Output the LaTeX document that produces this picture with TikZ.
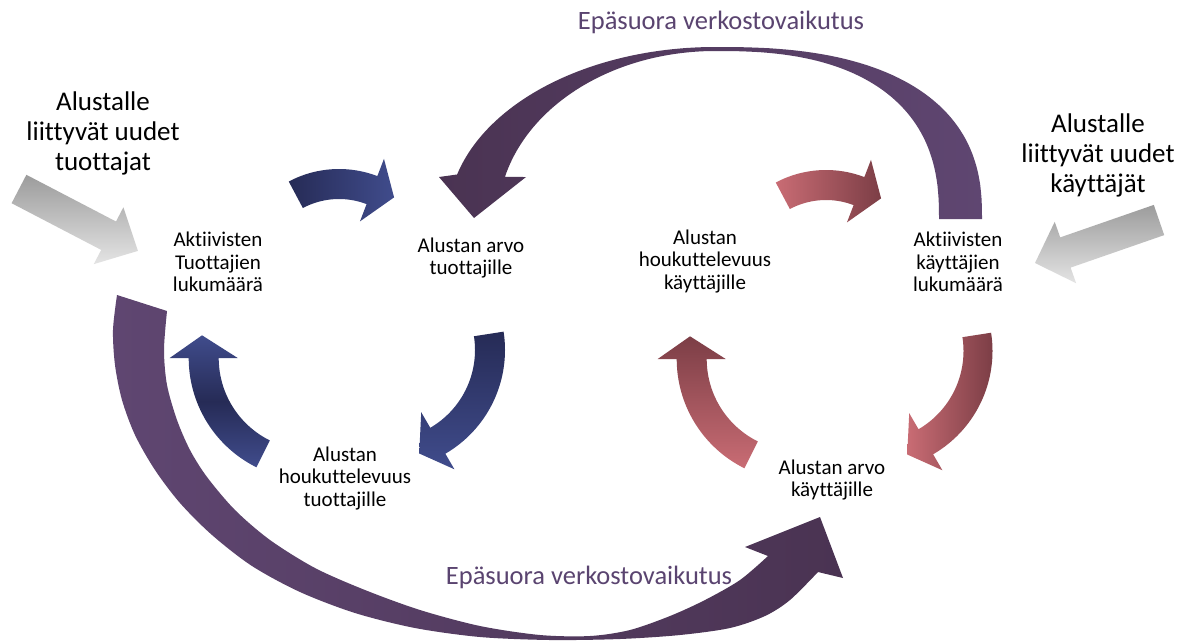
\documentclass[tikz,border=0pt]{standalone}
\usepackage{fontspec}
\setmainfont{Carlito}[Ligatures=NoCommon]
\definecolor{bluedark}{HTML}{262B56}
\definecolor{bluelight}{HTML}{404C8C}
\definecolor{reddark}{HTML}{7C3E46}
\definecolor{redlight}{HTML}{C96C74}
\definecolor{purpdark}{HTML}{4A3352}
\definecolor{purplight}{HTML}{5F4671}
\definecolor{graydark}{HTML}{9C9C9C}
\definecolor{graylight}{HTML}{E4E4E4}
\definecolor{txtpurple}{HTML}{5A4470}
% cx cy r a1 a2 a3 w hw style
\newcommand\cycarrow[9]{%
  \shade[#9] plot[domain=#4:#5,samples=40] ({#1+(#3+#7/2)*cos(\x)},{#2+(#3+#7/2)*sin(\x)})
   -- ({#1+(#3+#8/2)*cos(#5)},{#2+(#3+#8/2)*sin(#5)})
   -- ({#1+(#3+4)*cos(#6)},{#2+(#3+4)*sin(#6)})
   -- ({#1+(#3-#8/2)*cos(#5)},{#2+(#3-#8/2)*sin(#5)})
   -- plot[domain=#5:#4,samples=40] ({#1+(#3-#7/2)*cos(\x)},{#2+(#3-#7/2)*sin(\x)})
   -- cycle;}
\tikzset{
  lbl/.style={align=center, font=\fontsize{21}{22.5}\selectfont, inner sep=0pt},
  biglbl/.style={align=center, font=\fontsize{27}{30}\selectfont, inner sep=0pt},
  efx/.style={font=\fontsize{26.5}{29}\selectfont, text=txtpurple, inner sep=0pt},
  grayarrow/.style={top color=graydark, bottom color=graylight}
}
\begin{document}
\begin{tikzpicture}[x=1pt,y=-1pt]
\useasboundingbox (0,0) rectangle (1190,641);
\fill[white] (0,0) rectangle (1190,641);

% big top arrow
\shade[left color=purpdark,right color=purplight] (439,177)
  -- plot[domain=165:90,samples=50] ({715+267*cos(\x)},{219-172*sin(\x)})
  -- plot[domain=89.8:0.2,samples=50] ({715+267*pow(cos(\x),0.8)},{219-172*pow(sin(\x),0.8)})
  -- (982,219) -- (939,219)
  -- plot[domain=0.2:89.8,samples=50] ({715+224*pow(cos(\x),0.8)},{219-168*pow(sin(\x),0.8)})
  -- plot[domain=90:165.5,samples=50] ({715+217*cos(\x)},{219-168*sin(\x)})
  -- (526,177) -- (474,218) -- cycle;

% big bottom arrow
\shade[left color=purplight,right color=purpdark]
  plot[smooth] coordinates {(117,295) (113,330) (115,365) (122,400) (135,435) (155,470) (180,503) (212,535) (252,566) (300,592) (355,613) (415,628) (480,637) (550,640) (620,639) (680,635) (730,628) (765,616) (790,600) (818,572)}
  -- (843,578) -- (820,517) -- (745,547) -- (768,556)
  -- plot[smooth] coordinates {(768,556) (740,580) (705,600) (670,616) (630,630) (590,636) (540,635) (480,626) (420,610) (365,590) (315,568) (270,540) (235,510) (207,477) (190,450) (177,420) (167,385) (164,350) (167,311)}
  -- cycle;

% blue cycle
\cycarrow{339}{276}{92}{-118}{-69}{-55}{30}{67}{left color=bluedark,right color=bluelight}
\cycarrow{385}{350}{105}{-8.8}{59.8}{71.7}{30}{66}{top color=bluedark,bottom color=bluelight}
\cycarrow{310.7}{358}{107}{116.4}{180}{191.8}{30}{68}{top color=bluelight,bottom color=bluelight,middle color=bluedark}

% red cycle
\cycarrow{826}{277}{92}{-118}{-69}{-55}{30}{67}{left color=redlight,right color=reddark}
\cycarrow{873}{351}{105}{-8.8}{59.8}{71.7}{29}{66}{left color=redlight,right color=reddark}
\cycarrow{798.7}{359}{107}{116.4}{180}{191.8}{30}{68}{top color=reddark,bottom color=redlight}

% gray arrows
\shade[grayarrow] (26.4,174.8) -- (116,221.5) -- (123.4,207.3) -- (137.9,250.9) -- (93.8,264.1) -- (101.2,249.9) -- (11.6,203.2) -- cycle;
\shade[grayarrow] (1153.8,204.9) -- (1060.2,237.4) -- (1054.7,221.8) -- (1035,263) -- (1076.1,283.2) -- (1070.6,267.6) -- (1164.2,235.1) -- cycle;

% texts
\node[biglbl] (newprod) at (103,133) {Alustalle\\liittyvät uudet\\tuottajat};
\node[biglbl] (newuser) at (1098,155) {Alustalle\\liittyvät uudet\\käyttäjät};
\node[lbl] (actprod) at (218,262) {Aktiivisten\\Tuottajien\\lukumäärä};
\node[lbl] (valprod) at (471,258) {Alustan arvo\\tuottajille};
\node[lbl] (attrprod) at (345,478) {Alustan\\houkuttelevuus\\tuottajille};
\node[lbl] (attruser) at (705,261) {Alustan\\houkuttelevuus\\käyttäjille};
\node[lbl] (actuser) at (958,262) {Aktiivisten\\käyttäjien\\lukumäärä};
\node[lbl] (valuser) at (832,480) {Alustan arvo\\käyttäjille};
\node[efx] (eftop) at (721,22) {Epäsuora verkostovaikutus};
\node[efx] (efbot) at (589,577) {Epäsuora verkostovaikutus};
\end{tikzpicture}
\end{document}
